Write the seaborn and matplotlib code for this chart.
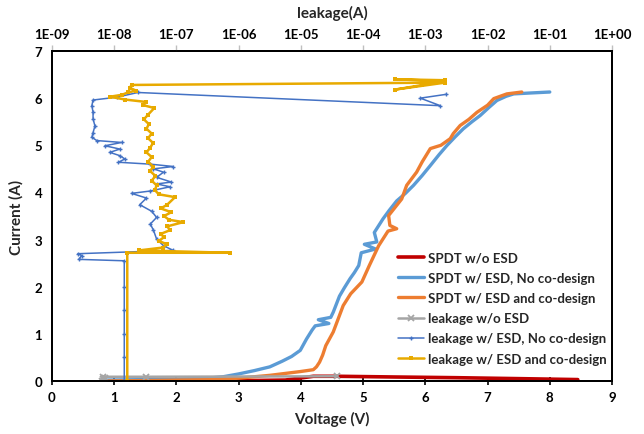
import matplotlib

matplotlib.use("Agg")

import matplotlib.pyplot as plt
import matplotlib.ticker as mticker
import numpy as np
import seaborn as sns

sns.set_theme(style="white")
plt.rcParams["font.family"] = ["Lato", "DejaVu Sans"]

# TLP I-V curves: voltage (V) vs current (A)
red_v = [0.80, 1.50, 2.60, 3.20, 3.75, 4.20, 4.60, 5.50, 6.50, 7.50, 8.45]
red_i = [0.00, 0.00, 0.005, 0.01, 0.02, 0.10, 0.10, 0.085, 0.07, 0.05, 0.03]

lblue_v = [0.85, 1.50, 2.00, 2.50, 2.75, 3.00, 3.25, 3.50, 3.70, 3.85, 3.99, 4.09,
           4.18, 4.23, 4.45, 4.28, 4.48, 4.52, 4.62, 4.70, 4.79, 4.86, 4.93, 4.97,
           5.20, 5.02, 5.22, 5.18, 5.32, 5.42, 5.54, 5.68, 5.81, 5.95, 6.08, 6.22,
           6.35, 6.48, 6.61, 6.75, 6.88, 7.02, 7.15, 7.30, 7.42, 7.70, 8.00]
lblue_i = [0.02, 0.03, 0.04, 0.06, 0.09, 0.15, 0.22, 0.30, 0.42, 0.52, 0.65, 0.89,
           1.08, 1.17, 1.22, 1.30, 1.35, 1.46, 1.80, 1.98, 2.17, 2.30, 2.45, 2.72,
           2.80, 2.90, 2.95, 3.15, 3.44, 3.62, 3.82, 3.98, 4.15, 4.36, 4.57, 4.80,
           5.00, 5.18, 5.35, 5.50, 5.63, 5.80, 5.95, 6.04, 6.09, 6.11, 6.13]

orange_v = [0.82, 1.50, 2.00, 2.65, 3.00, 3.50, 3.99, 4.20, 4.25, 4.30, 4.35,
            4.40, 4.52, 4.60, 4.68, 4.80, 4.98, 5.10, 5.25, 5.40, 5.54, 5.43,
            5.41, 5.62, 5.70, 5.86, 5.95, 6.08, 6.25, 6.40, 6.45, 6.56, 6.70,
            6.83, 7.00, 7.10, 7.31, 7.55]
orange_i = [0.00, 0.01, 0.02, 0.03, 0.06, 0.12, 0.20, 0.24, 0.30, 0.40, 0.55,
            0.75, 1.04, 1.32, 1.60, 1.85, 2.10, 2.45, 2.87, 3.18, 3.23, 3.30,
            3.51, 3.86, 4.15, 4.43, 4.65, 4.93, 5.00, 5.14, 5.25, 5.42, 5.55,
            5.70, 5.85, 5.99, 6.09, 6.13]

# leakage (A) vs current (A)
gray_leak = [6.3e-9, 6.9e-9, 6.6e-9, 7.2e-9, 6.6e-9, 3.3e-8, 3.8e-5]
gray_i = [0.01, 0.03, 0.05, 0.07, 0.09, 0.09, 0.10]

blue_leak = [1.45e-8, 1.45e-8, 1.45e-8, 1.45e-8, 1.45e-8, 1.45e-8, 2.7e-9, 3.0e-9,
             2.6e-9, 8.9e-8, 6.2e-8, 4.8e-8, 4.27e-8, 3.8e-8, 4.8e-8, 4.0e-8,
             2.57e-8, 3.3e-8, 1.9e-8, 3.8e-8, 7.9e-8, 4.8e-8, 8.3e-8, 4.8e-8,
             6.2e-8, 4.27e-8, 8.9e-8, 3.8e-8, 1.17e-8, 1.48e-8, 1.23e-8, 8.5e-9,
             1.23e-8, 7.1e-9, 1.32e-8, 5.25e-9, 4.37e-9, 4.57e-9, 4.9e-9, 4.57e-9,
             4.57e-9, 4.37e-9, 4.57e-9, 1.1e-8, 2.4e-8, 1.74e-3, 8.3e-4, 2.14e-3]
blue_i = [0.00, 0.50, 1.00, 1.50, 2.00, 2.55, 2.58, 2.66, 2.70, 2.77, 2.87, 3.01,
          3.20, 3.33, 3.47, 3.60, 3.74, 3.88, 3.98, 4.03, 4.12, 4.18, 4.22, 4.32,
          4.43, 4.50, 4.55, 4.60, 4.64, 4.71, 4.78, 4.85, 4.92, 4.99, 5.06, 5.10,
          5.17, 5.27, 5.41, 5.56, 5.70, 5.84, 5.96, 6.02, 6.12, 5.84, 6.00, 6.08]

gold_leak = [1.62e-8, 1.62e-8, 7.2e-7, 2.5e-8, 6.0e-8, 7.1e-8, 5.2e-8, 6.3e-8,
             5.6e-8, 7.9e-8, 7.1e-8, 1.29e-7, 7.6e-8, 6.3e-8, 8.3e-8, 5.6e-8,
             7.1e-8, 9.5e-8, 5.2e-8, 4.5e-8, 4.8e-8, 4.0e-8, 4.6e-8, 3.8e-8,
             4.2e-8, 3.5e-8, 4.0e-8, 3.3e-8, 3.8e-8, 4.2e-8, 3.5e-8, 4.0e-8,
             3.3e-8, 3.6e-8, 3.0e-8, 3.5e-8, 4.4e-8, 2.95e-8, 3.2e-8, 1.5e-8,
             8.5e-9, 1.32e-8, 1.66e-8, 2.24e-8, 1.78e-8, 1.9e-8, 2.1e-3, 3.2e-4,
             2.1e-3, 3.2e-4, 2.1e-3]
gold_i = [0.00, 2.72, 2.72, 2.77, 2.83, 2.90, 2.97, 3.05, 3.12, 3.20, 3.28, 3.37,
          3.42, 3.50, 3.58, 3.66, 3.74, 3.90, 3.96, 4.05, 4.15, 4.25, 4.35, 4.45,
          4.55, 4.65, 4.75, 4.85, 4.95, 5.05, 5.15, 5.25, 5.35, 5.45, 5.55, 5.65,
          5.79, 5.85, 5.92, 5.97, 6.03, 6.07, 6.12, 6.16, 6.22, 6.28, 6.33, 6.18,
          6.36, 6.40, 6.38]

top_exps = list(range(-9, 1))

fig = plt.figure(figsize=(6.44, 4.35), dpi=100)
ax = fig.add_axes([52 / 644, 1 - 382 / 435, 560 / 644, 330 / 435])
ax2 = ax.twiny()

sns.lineplot(x=red_v, y=red_i, sort=False, estimator=None, ax=ax, color="#C00000",
             linewidth=2.6, label="SPDT w/o ESD")
sns.lineplot(x=lblue_v, y=lblue_i, sort=False, estimator=None, ax=ax, color="#5B9BD5",
             linewidth=2.4, label="SPDT w/ ESD, No co-design")
sns.lineplot(x=orange_v, y=orange_i, sort=False, estimator=None, ax=ax, color="#ED7D31",
             linewidth=2.4, label="SPDT w/ ESD and co-design")

sns.lineplot(x=gray_leak, y=gray_i, sort=False, estimator=None, ax=ax2, color="#A5A5A5",
             linewidth=1.8, marker="x", markersize=5, markeredgewidth=1.3,
             markeredgecolor="#A5A5A5", label="leakage w/o ESD")
sns.lineplot(x=blue_leak, y=blue_i, sort=False, estimator=None, ax=ax2, color="#4472C4",
             linewidth=1.1, marker="+", markersize=3.5, markeredgewidth=1.0,
             markeredgecolor="#4472C4", label="leakage w/ ESD, No co-design")
sns.lineplot(x=gold_leak, y=gold_i, sort=False, estimator=None, ax=ax2, color="#E8AA00",
             linewidth=1.8, marker="s", markersize=2.8, markeredgewidth=0,
             markeredgecolor="#E8AA00", label="leakage w/ ESD and co-design")

ax.set_xlim(0, 9)
ax.set_ylim(0, 7)
ax.set_xticks(range(0, 10))
ax.set_yticks(range(0, 8))
ax.set_xlabel("Voltage (V)", fontsize=11, fontweight="bold", labelpad=6)
ax.set_ylabel("Current (A)", fontsize=11, fontweight="bold", labelpad=8)
ax.tick_params(axis="both", labelsize=9.5, direction="inout", length=6, width=1.2,
               colors="black", pad=4)
for lab in ax.get_xticklabels() + ax.get_yticklabels():
    lab.set_fontweight("bold")

ax2.set_xscale("log")
ax2.set_xlim(1e-9, 1)
ax2.xaxis.set_major_locator(mticker.FixedLocator([10.0 ** k for k in top_exps]))
ax2.xaxis.set_minor_locator(mticker.NullLocator())
ax2.xaxis.set_major_formatter(mticker.FuncFormatter(lambda v, p: f"1E{int(round(np.log10(v))):+03d}"))
ax2.set_xlabel("leakage(A)", fontsize=11, fontweight="bold", labelpad=8)
ax2.tick_params(axis="x", labelsize=9.5, direction="out", length=4, width=1,
                color="#BFBFBF", labelcolor="black", pad=4)
for lab in ax2.get_xticklabels():
    lab.set_fontweight("bold")

for a in (ax, ax2):
    for s in a.spines.values():
        s.set_color("black")
        s.set_linewidth(1.4)

h1, l1 = ax.get_legend_handles_labels()
h2, l2 = ax2.get_legend_handles_labels()
if ax.get_legend():
    ax.get_legend().remove()
ax2.legend(h1 + h2, l1 + l2, loc="center left", bbox_to_anchor=(0.618, 0.2206),
           frameon=False, handlelength=2.0, handletextpad=0.25,
           labelspacing=0.62, borderpad=0, borderaxespad=0,
           prop={"weight": "bold", "size": 9.5})

fig.savefig("out.png", dpi=100)
